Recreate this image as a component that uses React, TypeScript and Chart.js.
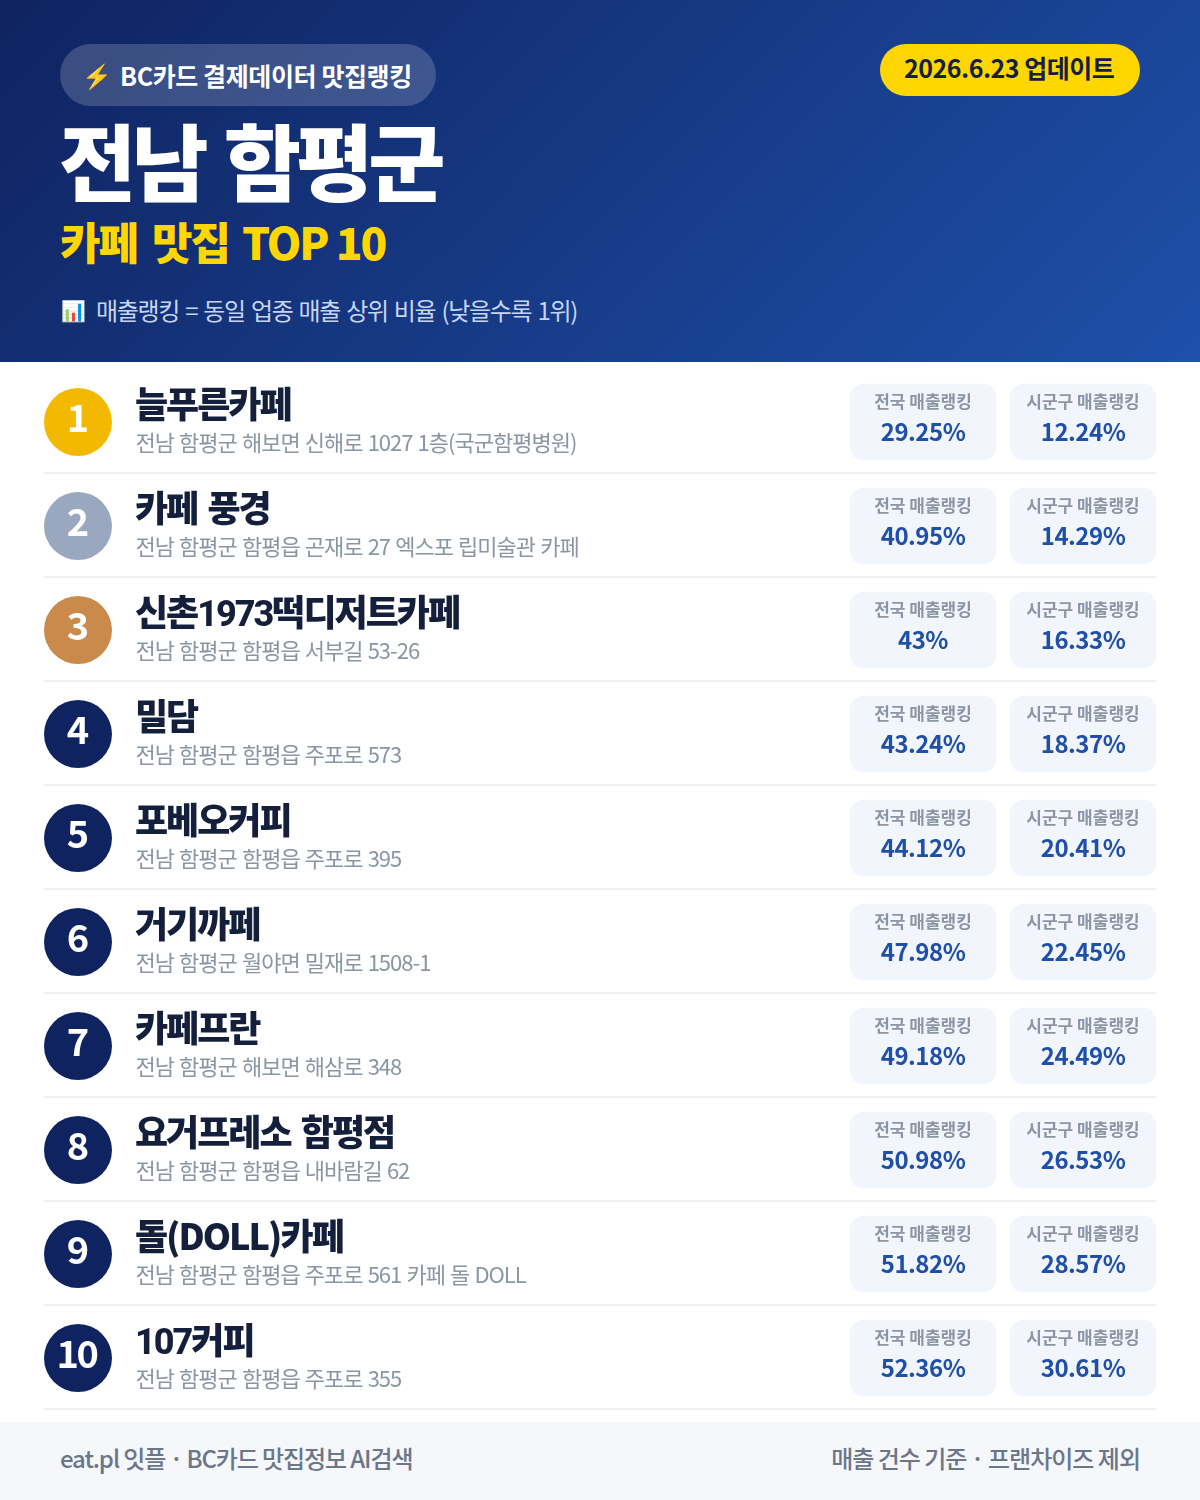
import React, { useEffect, useRef } from "react";
import { Chart, registerables } from "chart.js";

Chart.register(...registerables);

const names = ["늘푸른카페", "카페 풍경", "신촌1973떡디저트카페", "밀담", "포베오커피", "거기까페", "카페프란", "요거프레소 함평점", "돌(DOLL)카페", "107커피"];
const addresses = [
  "전남 함평군 해보면 신해로 1027 1층(국군함평병원)",
  "전남 함평군 함평읍 곤재로 27 엑스포 립미술관 카페",
  "전남 함평군 함평읍 서부길 53-26",
  "전남 함평군 함평읍 주포로 573",
  "전남 함평군 함평읍 주포로 395",
  "전남 함평군 월야면 밀재로 1508-1",
  "전남 함평군 해보면 해삼로 348",
  "전남 함평군 함평읍 내바람길 62",
  "전남 함평군 함평읍 주포로 561 카페 돌 DOLL",
  "전남 함평군 함평읍 주포로 355",
];
const nationalRank = ["29.25%", "40.95%", "43%", "43.24%", "44.12%", "47.98%", "49.18%", "50.98%", "51.82%", "52.36%"];
const localRank = ["12.24%", "14.29%", "16.33%", "18.37%", "20.41%", "22.45%", "24.49%", "26.53%", "28.57%", "30.61%"];
const ranks = ["1", "2", "3", "4", "5", "6", "7", "8", "9", "10"];

const FONT = '"Noto Sans CJK KR", "Noto Sans", sans-serif';
const DIGIT_NAME_FONT = 'Roboto, "Noto Sans CJK KR", sans-serif';
const badgeColors = ["#F2B900", "#9AA8BF", "#C98A4B"];
const badgeDefault = "#0F2360";

function text(ctx: any, s: string, x: number, y: number, font: string, color: string, align: CanvasTextAlign = "left", spacing = "0px", words = "0px") {
  ctx.font = font;
  ctx.fillStyle = color;
  ctx.textAlign = align;
  ctx.textBaseline = "alphabetic";
  ctx.letterSpacing = spacing;
  ctx.wordSpacing = words;
  ctx.fillText(s, x, y);
}

const rowText = {
  id: "rowText",
  afterDatasetsDraw(chart: any) {
    const { ctx, scales } = chart;
    const { x, y } = scales;
    ctx.save();
    names.forEach((name, i) => {
      const cy = y.getPixelForValue(i);
      ctx.fillStyle = "#EEF0F3";
      ctx.fillRect(x.left, cy + 50, x.right - x.left, 2);
      text(ctx, ranks[i], x.getPixelForValue(i === 9 ? 76.5 : 78), cy + 10, `700 38px ${FONT}`, "#FFFFFF", "center", i === 9 ? "-2.5px" : "0px");
      text(ctx, name, x.getPixelForValue(135), cy - 4, `800 36px ${/\d/.test(name) ? DIGIT_NAME_FONT : FONT}`, "#141F3C", "left", "-2px", "4px");
      text(ctx, addresses[i], x.getPixelForValue(135.5), cy + 29, `400 22px ${FONT}`, "#8B95A5", "left", "-1px", "1.2px");
      const c1 = x.getPixelForValue(923);
      const c2 = x.getPixelForValue(1083);
      text(ctx, "전국 매출랭킹", c1, cy - 14, `600 17px ${FONT}`, "#8B95A5", "center");
      text(ctx, "시군구 매출랭킹", c2, cy - 14, `600 17px ${FONT}`, "#8B95A5", "center");
      text(ctx, nationalRank[i], c1, cy + 19, `700 24px ${FONT}`, "#1E50AA", "center", "-0.5px");
      text(ctx, localRank[i], c2, cy + 19, `700 24px ${FONT}`, "#1E50AA", "center", "-0.5px");
    });
    ctx.restore();
  },
};

const abs = (left: number, top: number, size: number, weight: number, color: string, extra: any = {}) => ({
  position: "absolute" as const,
  left,
  top,
  fontSize: size,
  fontWeight: weight,
  color,
  lineHeight: 1,
  whiteSpace: "nowrap" as const,
  ...extra,
});

export default function App() {
  const ref = useRef<HTMLCanvasElement>(null);
  useEffect(() => {
    document.body.style.margin = "0";
    const chart = new Chart(ref.current!, {
      data: {
        labels: names,
        datasets: [
          {
            type: "bar",
            indexAxis: "y",
            grouped: false,
            data: names.map(() => [850, 996]),
            backgroundColor: "#F2F5FC",
            borderRadius: 14,
            borderSkipped: false,
            barThickness: 76,
          },
          {
            type: "bar",
            indexAxis: "y",
            grouped: false,
            data: names.map(() => [1010, 1156]),
            backgroundColor: "#F2F5FC",
            borderRadius: 14,
            borderSkipped: false,
            barThickness: 76,
          },
          {
            type: "scatter",
            data: names.map((n) => ({ x: 78, y: n })),
            pointRadius: 34,
            pointHoverRadius: 34,
            pointBorderWidth: 0,
            pointBackgroundColor: names.map((_, i) => badgeColors[i] ?? badgeDefault),
          },
        ],
      } as any,
      options: {
        animation: false,
        responsive: false,
        indexAxis: "y",
        layout: { padding: { left: 44, right: 44, top: 40, bottom: 40 } },
        plugins: { legend: { display: false }, tooltip: { enabled: false } },
        scales: {
          x: { type: "linear", min: 44, max: 1156, display: false },
          y: { type: "category", display: false, offset: true },
        },
      } as any,
      plugins: [rowText],
    });
    return () => chart.destroy();
  }, []);

  return (
    <div style={{ position: "relative", width: 1200, height: 1500, fontFamily: FONT, background: "#fff", overflow: "hidden" }}>
      <div style={{ position: "absolute", left: 0, top: 0, width: 1200, height: 362, background: "linear-gradient(135deg, #0F2360 0%, #1E50AA 100%)" }}>
        <div style={{ position: "absolute", left: 60, top: 44, width: 376, height: 62, borderRadius: 31, background: "rgba(255,255,255,0.18)" }} />
        <span style={abs(82, 63, 24, 700, "#fff")}>⚡</span>
        <span style={abs(120, 63, 25, 700, "#fff", { letterSpacing: "-0.4px" })}>BC카드 결제데이터 맛집랭킹</span>
        <div style={{ position: "absolute", left: 880, top: 44, width: 260, height: 52, borderRadius: 26, background: "#FFD600" }} />
        <span style={abs(904, 55, 25, 700, "#141F3C", { letterSpacing: "-0.5px" })}>2026.6.23 업데이트</span>
        <span style={abs(59, 117, 84, 900, "#fff", { letterSpacing: "-5px", wordSpacing: "6px" })}>전남 함평군</span>
        <span style={abs(60, 219, 44, 900, "#FFD600", { letterSpacing: "-2px", wordSpacing: "7px" })}>
          카페 맛집 <span style={{ wordSpacing: "0px", marginLeft: -2 }}>TOP 10</span>
        </span>
        <span style={abs(61, 300, 20, 400, "#C7D5F2")}>📊</span>
        <span style={abs(96, 298, 24, 400, "#C7D5F2", { letterSpacing: "-1.3px", wordSpacing: "2px" })}>매출랭킹 = 동일 업종 매출 상위 비율 (낮을수록 1위)</span>
      </div>
      <canvas ref={ref} width={1200} height={1120} style={{ position: "absolute", left: 0, top: 330, width: 1200, height: 1120, display: "block", zIndex: 2, pointerEvents: "none" }} />
      <div style={{ position: "absolute", left: 0, top: 1422, width: 1200, height: 78, background: "#F5F7FB" }}>
        <span style={abs(60, 24, 24, 500, "#6B7689", { letterSpacing: "-1.1px" })}>eat.pl 잇플 · BC카드 맛집정보 AI검색</span>
        <span style={{ ...abs(0, 24, 24, 500, "#6B7689", { letterSpacing: "-1px" }), left: "auto", right: 60 }}>매출 건수 기준 · 프랜차이즈 제외</span>
      </div>
    </div>
  );
}
